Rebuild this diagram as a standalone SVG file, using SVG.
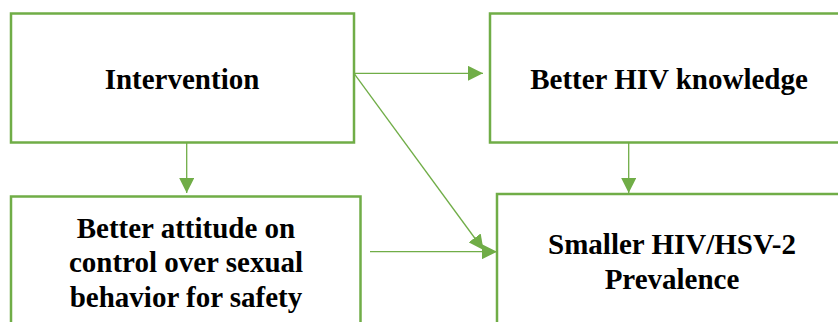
<svg xmlns="http://www.w3.org/2000/svg" width="838" height="322" viewBox="0 0 838 322">
<style>
.box{fill:#fff;stroke:#70AD47;stroke-width:2.5}
.lbl{font-family:"Liberation Serif","Times New Roman",serif;font-weight:bold;font-size:29px;fill:#000;text-anchor:middle}
.con{stroke:#70AD47;stroke-width:1.3;fill:none;marker-end:url(#ah)}
</style>
<defs>
<marker id="ah" markerUnits="userSpaceOnUse" markerWidth="16" markerHeight="15" refX="15" refY="7.5" orient="auto">
<path d="M0,0 L15,7.5 L0,15 z" fill="#70AD47"/>
</marker>
</defs>
<rect width="838" height="322" fill="#fff"/>
<g id="intervention">
<rect class="box" x="11" y="13.5" width="343" height="129"/>
<text class="lbl" x="182" y="89">Intervention</text>
</g>
<g id="knowledge">
<rect class="box" x="490" y="13.5" width="400" height="129"/>
<text class="lbl" x="669" y="89">Better HIV knowledge</text>
</g>
<g id="attitude">
<rect class="box" x="11" y="196.5" width="349.5" height="200"/>
<text class="lbl" x="186" y="238">Better attitude on</text>
<text class="lbl" x="186" y="272">control over sexual</text>
<text class="lbl" x="186" y="306.5">behavior for safety</text>
</g>
<g id="prevalence">
<rect class="box" x="497" y="194" width="400" height="200"/>
<text class="lbl" x="672" y="254">Smaller HIV/HSV-2</text>
<text class="lbl" x="672" y="288.5">Prevalence</text>
</g>
<g id="connectors">
<line class="con" x1="354" y1="73.3" x2="483" y2="73.3"/>
<line class="con" x1="354" y1="73.3" x2="483.5" y2="250"/>
<line class="con" x1="186.7" y1="143" x2="186.7" y2="193"/>
<line class="con" x1="628.7" y1="143" x2="628.7" y2="193"/>
<line class="con" x1="370" y1="251.7" x2="497" y2="251.7"/>
</g>
</svg>
